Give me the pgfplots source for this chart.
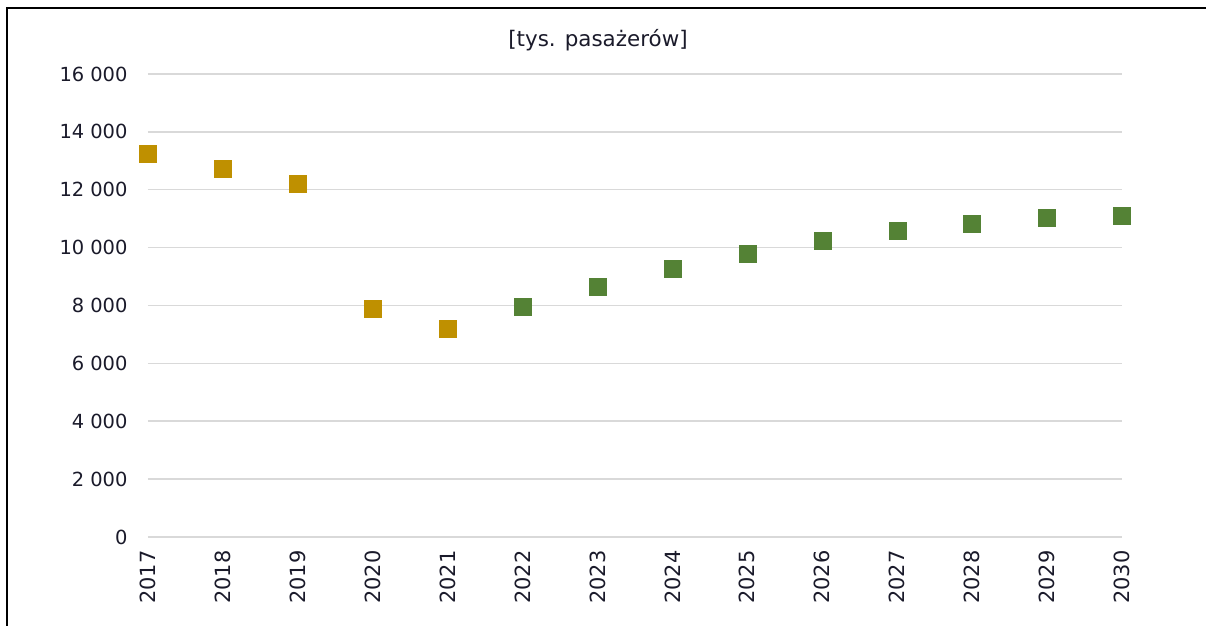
\documentclass[border=0pt]{standalone}
\usepackage{pgfplots}
\pgfplotsset{compat=1.18}
\usepackage{fontspec}
\setmainfont{DejaVu Sans}
\definecolor{gold}{HTML}{BF9000}
\definecolor{grn}{HTML}{548235}
\definecolor{gridc}{HTML}{D9D9D9}
\definecolor{txt}{HTML}{1A1A2A}
\begin{document}
\begin{tikzpicture}[x=1bp,y=1bp]
\useasboundingbox (-148,-89) rectangle (1058,537);
\draw[line width=2bp] (-141,-89) -- (-141,529) -- (1058,529);
\begin{axis}[
  at={(0,0)}, anchor=origin,
  scale only axis, width=974bp, height=463bp,
  xmin=2017, xmax=2030, ymin=0, ymax=16000,
  clip=false,
  axis line style={draw=none},
  xtick={2017,...,2030},
  ytick={0,2000,...,16000},
  scaled y ticks=false,
  ymajorgrids, grid style={gridc, line width=1.5bp},
  major tick length=0pt,
  xticklabel style={rotate=90, anchor=east, font=\fontsize{21}{24}\selectfont, text=txt},
  xticklabel={\pgfmathprintnumber[assume math mode=true,1000 sep={}]{\tick}},
  yticklabel style={font=\fontsize{19.5}{22}\selectfont, text=txt},
  yticklabel={\pgfmathprintnumber[assume math mode=true,1000 sep={\ }]{\tick}},
  xticklabel shift=10bp,
  yticklabel shift=17bp,
]
\addplot[only marks, mark=square*, mark size=8.5bp, color=gold, mark options={rounded corners=2bp}] coordinates {
 (2017,13260) (2018,12717) (2019,12199) (2020,7879) (2021,7188)
};
\addplot[only marks, mark=square*, mark size=8.5bp, color=grn, mark options={rounded corners=2bp}] coordinates {
 (2022,7948) (2023,8650) (2024,9285) (2025,9790) (2026,10240) (2027,10575) (2028,10827) (2029,11035) (2030,11104)
};
\end{axis}
\node[font=\fontsize{21.5}{25}\selectfont, text=txt] at (450,497) {[tys. pasażerów]};
\end{tikzpicture}
\end{document}
